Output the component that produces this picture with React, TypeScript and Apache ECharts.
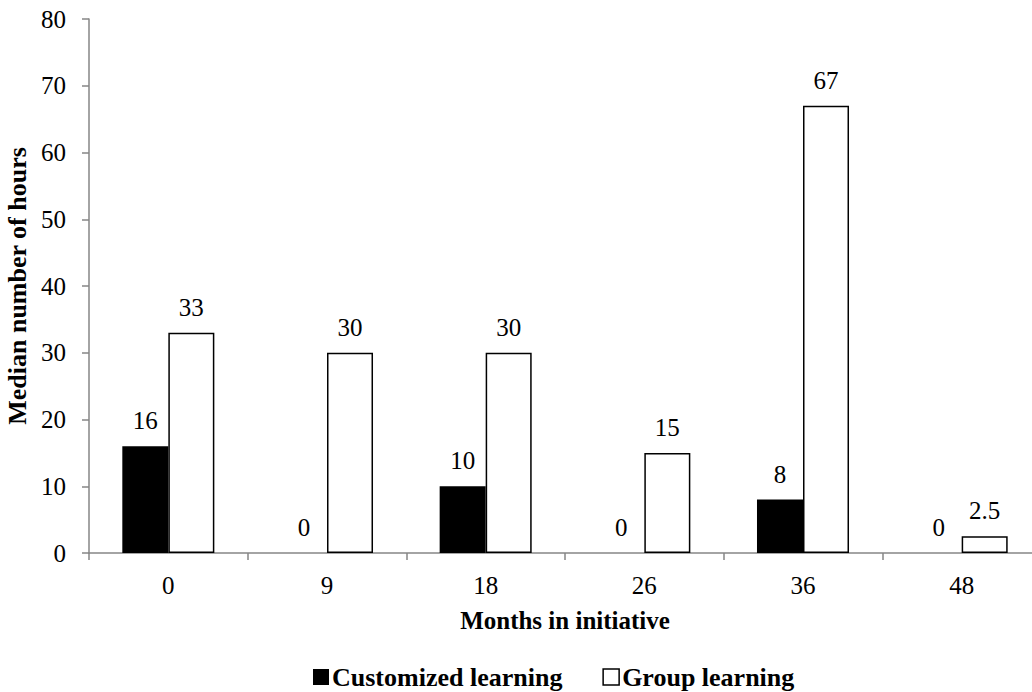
import React, { useEffect, useRef } from "react";
import * as echarts from "echarts";

const categories = ["0", "9", "18", "26", "36", "48"];
const customized = [16, 0, 10, 0, 8, 0];
const groupLearning = [33, 30, 30, 15, 67, 2.5];
const seriesNames = ["Customized learning", "Group learning"];

const FONT = '"Liberation Serif", "Times New Roman", serif';

export default function App() {
  const ref = useRef<HTMLDivElement>(null);
  useEffect(() => {
    const chart = echarts.init(ref.current!, null, { renderer: "svg" });
    const labelStyle = {
      show: true,
      position: "top" as const,
      distance: 13,
      fontFamily: FONT,
      fontSize: 25,
      color: "#000",
    };
    chart.setOption({
      animation: false,
      backgroundColor: "#fff",
      grid: {
        left: 89,
        right: -9,
        top: 19,
        bottom: 139,
        containLabel: false,
        outerBoundsMode: "none",
      },
      legend: {
        top: 659,
        left: 308,
        itemWidth: 16,
        itemHeight: 16,
        itemGap: 40,
        textStyle: { fontFamily: FONT, fontSize: 26, fontWeight: "bold", color: "#000", padding: [0, 0, 0, -2] },
        data: [
          { name: seriesNames[0], icon: "rect", itemStyle: { color: "#000" } },
          {
            name: seriesNames[1],
            icon: "rect",
            itemStyle: { color: "#fff", borderColor: "#000", borderWidth: 1.5 },
          },
        ],
      },
      xAxis: {
        type: "category",
        data: categories,
        name: "Months in initiative",
        nameLocation: "middle",
        nameGap: 55,
        nameTextStyle: { fontFamily: FONT, fontSize: 25, fontWeight: "bold", color: "#000" },
        axisLine: { lineStyle: { color: "#868686", width: 1.5 } },
        axisTick: { show: true, length: 7, lineStyle: { color: "#868686", width: 1.5 } },
        axisLabel: { fontFamily: FONT, fontSize: 25, color: "#000", margin: 20 },
      },
      yAxis: {
        type: "value",
        min: 0,
        max: 80,
        interval: 10,
        name: "Median number of hours",
        nameLocation: "middle",
        nameGap: 58,
        nameTextStyle: { fontFamily: FONT, fontSize: 26, fontWeight: "bold", color: "#000" },
        axisLine: { show: true, lineStyle: { color: "#868686", width: 1.5 } },
        axisTick: { show: true, length: 7, lineStyle: { color: "#868686", width: 1.5 } },
        axisLabel: { fontFamily: FONT, fontSize: 25, color: "#000", margin: 23 },
        splitLine: { show: false },
      },
      series: [
        {
          name: seriesNames[0],
          type: "bar",
          data: customized,
          barGap: "0%",
          barCategoryGap: "42%",
          itemStyle: { color: "#000" },
          label: labelStyle,
        },
        {
          name: seriesNames[1],
          type: "bar",
          data: groupLearning,
          barGap: "0%",
          barCategoryGap: "42%",
          itemStyle: { color: "#fff", borderColor: "#000", borderWidth: 1.5 },
          label: labelStyle,
        },
      ],
    });
    return () => chart.dispose();
  }, []);
  return (
    <div
      ref={ref}
      style={{ position: "absolute", left: 0, top: 0, width: 1032, height: 692 }}
    />
  );
}
